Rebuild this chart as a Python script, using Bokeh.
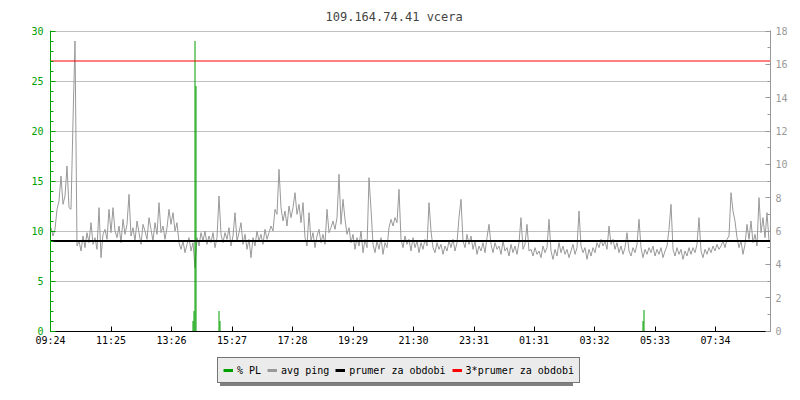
from bokeh.plotting import figure
from bokeh.layouts import column
from bokeh.models import (Range1d, LinearAxis, SingleIntervalTicker, FixedTicker,
                          Legend, LegendItem)
from bokeh.embed import file_html
from bokeh.resources import INLINE

# ---------------- data ----------------
title_text = "109.164.74.41 vcera"
t_start, t_end = 0, 1440          # minutes since 09:24
sample_step = 4                   # minutes between ping samples

x_tick_pos = [0, 121, 242, 363, 484, 605, 726, 847, 967, 1088, 1209, 1330]
x_tick_labels = ["09:24", "11:25", "13:26", "15:27", "17:28", "19:29",
                 "21:30", "23:31", "01:31", "03:32", "05:33", "07:34"]

# avg ping [ms], one value per 4 minutes
ping_ms = [
    6.2, 5.7, 6.1, 7.3, 7.8, 9.3, 7.6, 8.1, 9.9, 7.4, 7.3, 12.6, 17.4, 5.1, 5.4, 4.8, 5.7, 5.0, 5.9, 5.3,
    6.5, 5.2, 5.6, 4.9, 7.4, 4.4, 5.8, 6.1, 5.5, 7.3, 5.9, 7.4, 6.0, 5.6, 6.3, 5.3, 6.7, 5.8, 6.4, 8.2,
    5.7, 6.2, 5.4, 6.6, 5.9, 5.2, 6.4, 6.0, 5.5, 6.8, 6.1, 5.4, 6.5, 5.8, 7.7, 5.9, 6.3, 5.5, 6.2, 7.3,
    6.4, 7.1, 6.0, 6.5, 5.3, 4.9, 5.4, 4.7, 5.2, 5.6, 4.8, 5.3, 3.8, 5.6, 5.1, 5.9, 5.4, 6.0, 5.2, 5.7,
    5.3, 5.9, 5.0, 5.6, 8.1, 5.8, 5.3, 5.9, 5.5, 6.2, 5.1, 5.7, 7.1, 5.4, 5.9, 6.5, 5.2, 5.8, 4.9, 5.5,
    4.4, 5.6, 5.1, 6.0, 5.4, 5.8, 5.2, 6.1, 5.5, 5.9, 6.3, 6.0, 7.3, 7.0, 9.7, 7.4, 6.6, 7.2, 6.3, 7.5,
    6.8, 7.4, 8.3, 7.0, 7.6, 6.5, 7.7, 5.6, 5.1, 7.1, 5.4, 5.9, 5.0, 5.7, 6.1, 5.3, 5.8, 5.2, 7.3, 5.9,
    6.2, 6.6, 6.1, 6.8, 9.4, 6.4, 7.9, 6.7, 5.8, 6.2, 5.3, 5.8, 4.9, 5.6, 5.1, 6.0, 4.7, 5.5, 5.0, 9.2,
    7.3, 5.2, 4.7, 5.4, 4.9, 5.6, 4.6, 5.3, 5.0, 6.2, 6.7, 6.3, 6.8, 6.5, 8.5, 5.5, 5.0, 5.7, 5.2, 5.5,
    4.8, 5.6, 5.0, 5.4, 4.7, 5.3, 4.9, 5.5, 5.1, 7.7, 6.0, 5.0, 4.7, 5.3, 4.9, 5.2, 4.6, 5.1, 4.8, 5.4,
    5.0, 5.5, 4.8, 5.3, 6.8, 7.9, 5.4, 5.0, 5.8, 5.2, 5.7, 4.9, 5.4, 4.6, 5.1, 4.8, 5.3, 4.7, 5.6, 6.4,
    5.2, 4.7, 5.3, 4.9, 5.1, 4.6, 5.4, 4.8, 5.0, 4.5, 5.2, 4.7, 5.1, 4.6, 5.3, 6.8, 4.9, 5.2, 6.4, 4.8,
    4.9, 4.5, 5.0, 4.6, 4.8, 4.4, 5.1, 4.7, 5.0, 6.7, 4.8, 4.3, 4.9, 4.5, 5.3, 4.7, 5.1, 4.6, 4.9, 4.4,
    4.8, 5.2, 4.6, 5.0, 7.2, 5.1, 4.7, 5.0, 4.3, 4.9, 4.5, 5.0, 4.7, 5.3, 5.0, 5.5, 5.1, 5.4, 4.9, 6.3,
    5.2, 5.5, 4.9, 5.3, 4.7, 5.1, 4.6, 5.0, 5.9, 4.8, 4.5, 5.0, 4.7, 5.2, 6.7, 5.0, 4.4, 4.9, 4.6, 5.0,
    4.7, 5.1, 4.5, 4.9, 4.6, 5.0, 4.4, 4.8, 5.1, 6.1, 7.6, 4.9, 4.5, 5.0, 4.6, 4.9, 4.3, 4.8, 4.5, 5.0,
    4.6, 5.0, 4.7, 5.2, 6.8, 4.8, 4.4, 4.9, 4.6, 5.0, 4.7, 5.1, 4.8, 5.2, 4.9, 5.1, 5.4, 5.0, 5.5, 5.7,
    8.3, 7.2, 6.6, 5.6, 5.0, 5.4, 4.6, 5.2, 6.4, 5.5, 6.6, 5.3, 5.8, 5.1, 8.0, 5.9, 6.8, 5.6, 7.1, 5.4,
]
ping_time = list(range(t_start + 1, t_end, sample_step))

# packet loss [%]
pl_time = [285, 287, 289, 291, 337, 339, 1185, 1187]
pl_pct = [1.0, 2.0, 29.0, 24.5, 2.0, 1.0, 1.0, 2.1]

prumer_ms = 5.4
triple_prumer_ms = 3 * prumer_ms

legend_labels = ["% PL", "avg ping", "prumer za obdobi", "3*prumer za obdobi"]

# ---------------- style ----------------
GREEN = "#00a000"
GRAY = "#999999"
FONT = "DejaVu Sans Mono"

# ranges padded by half a pixel so that lines fall on pixel centres
p = figure(width=800, height=353, output_backend="svg", toolbar_location=None,
           x_range=Range1d(t_start, t_end), y_range=Range1d(-0.05, 30.05),
           min_border_left=50, min_border_right=30, min_border_top=30,
           min_border_bottom=22)
p.extra_y_ranges = {"ping": Range1d(-0.03, 18.03)}
p.outline_line_color = None
p.background_fill_color = "white"

p.title.text = title_text
p.title.text_font = FONT
p.title.text_font_size = "12px"
p.title.text_font_style = "normal"
p.title.align = "left"
p.title.offset = 275
p.title.standoff = 13

# x axis
xa = p.xaxis[0]
xa.ticker = FixedTicker(ticks=x_tick_pos, minor_ticks=[])
xa.major_label_overrides = {k: v for k, v in zip(x_tick_pos, x_tick_labels)}
xa.axis_line_color = "black"
xa.major_tick_line_color = "black"
xa.major_tick_in = 5
xa.major_tick_out = 0
xa.minor_tick_line_color = None
xa.major_label_text_font = FONT
xa.major_label_text_font_size = "10px"
xa.major_label_text_color = "black"
xa.major_label_standoff = 3

# left axis
ly = p.yaxis[0]
ly.ticker = SingleIntervalTicker(interval=5, num_minor_ticks=5)
ly.axis_line_color = GREEN
ly.major_tick_line_color = GREEN
ly.minor_tick_line_color = GREEN
ly.major_tick_in = 5
ly.major_tick_out = 0
ly.minor_tick_in = 3
ly.minor_tick_out = 0
ly.major_label_text_color = GREEN
ly.major_label_text_font = FONT
ly.major_label_text_font_size = "10px"
ly.major_label_standoff = 7

# right axis
ry = LinearAxis(y_range_name="ping", ticker=SingleIntervalTicker(interval=2, num_minor_ticks=2))
ry.axis_line_color = GRAY
ry.major_tick_line_color = GRAY
ry.minor_tick_line_color = GRAY
ry.major_tick_in = 5
ry.major_tick_out = 0
ry.minor_tick_in = 3
ry.minor_tick_out = 0
ry.major_label_text_color = GRAY
ry.major_label_text_font = FONT
ry.major_label_text_font_size = "10px"
ry.major_label_standoff = 5
p.add_layout(ry, "right")

p.xgrid.visible = False
p.ygrid[0].ticker = ly.ticker
p.ygrid[0].grid_line_color = "#c0c0c0"
p.ygrid[0].grid_line_width = 1

# ---------------- renderers ----------------
p.line(ping_time, ping_ms, y_range_name="ping", line_color=GRAY, line_width=1)
p.vbar(x=pl_time, top=pl_pct, bottom=0, width=2, fill_color=GREEN, line_color=None)
p.line([t_start, t_end], [prumer_ms, prumer_ms], y_range_name="ping",
       line_color="black", line_width=2)
p.line([t_start, t_end], [triple_prumer_ms, triple_prumer_ms], y_range_name="ping",
       line_color="#ff0000", line_width=1)

# ---------------- legend strip ----------------
pl = figure(width=800, height=47, output_backend="svg", toolbar_location=None,
            x_axis_type=None, y_axis_type=None, title=None,
            x_range=Range1d(0, 1), y_range=Range1d(0, 1),
            min_border=0, min_border_left=0, min_border_right=0,
            min_border_top=0, min_border_bottom=0)
pl.outline_line_color = None
pl.xgrid.visible = False
pl.ygrid.visible = False

# legend key lines, kept outside the visible range of the strip
key_colors = [GREEN, GRAY, "black", "red"]
keys = [pl.line(x=[0, 1], y=[-5, -5], line_color=c, line_width=3) for c in key_colors]
shadow_key = pl.line(x=[0, 1], y=[-5, -5], line_color="#808080", line_alpha=0)

shadow = Legend(items=[LegendItem(label=" ", renderers=[shadow_key])],
                location=(170, 14), orientation="horizontal",
                glyph_width=10, glyph_height=14, label_height=14, label_width=339,
                label_standoff=4, padding=5, margin=0, spacing=6,
                border_line_color=None, background_fill_color="#808080",
                background_fill_alpha=1, label_text_font=FONT,
                label_text_font_size="10px")
pl.add_layout(shadow)

legend = Legend(items=[LegendItem(label=l, renderers=[r]) for l, r in zip(legend_labels, keys)],
                location=(167, 17), orientation="horizontal",
                glyph_width=10, glyph_height=14, label_height=14, label_width=0,
                label_standoff=4, padding=5, margin=0, spacing=6,
                border_line_color="black", border_line_width=1,
                background_fill_color="#ebebeb", background_fill_alpha=1,
                label_text_font=FONT, label_text_font_size="10px",
                label_text_color="black")
pl.add_layout(legend)

layout = column(p, pl, spacing=0)
open("out.html", "w").write(file_html(layout, INLINE))
